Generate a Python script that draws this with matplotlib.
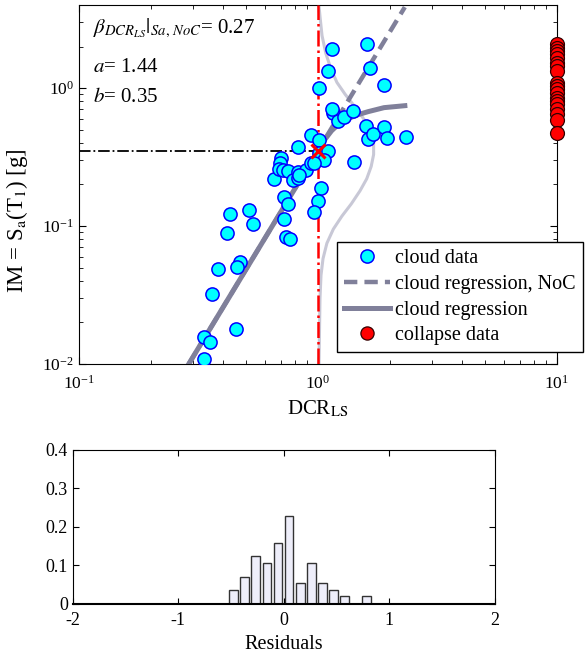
import numpy as np
import matplotlib
matplotlib.use('Agg')
import matplotlib.pyplot as plt
from matplotlib.lines import Line2D

plt.rcParams['font.family'] = ['Liberation Serif', 'DejaVu Serif']
plt.rcParams['mathtext.fontset'] = 'stix'

# cloud data: DCR_LS vs Sa(T1)
cloud_dcr = [0.333, 0.333, 0.353, 0.454, 0.36, 0.382, 0.472, 0.458, 0.416, 0.428,
             0.514, 0.535, 0.735, 0.764, 0.721, 0.721, 0.749, 0.654, 0.70, 0.693,
             0.687, 0.714, 0.749, 0.786, 0.825, 0.825, 0.891, 0.935, 0.825, 0.935,
             1.01, 1.01, 1.10, 1.06, 0.962, 1.03, 1.0, 0.962, 1.415, 1.588,
             1.62, 1.70, 1.89, 1.94, 2.33, 1.156, 1.21, 1.285, 1.40, 1.144,
             1.60, 1.10, 1.65, 1.89, 1.01, 1.144, 0.833]
cloud_sa = [0.0109, 0.0157, 0.0145, 0.018, 0.0322, 0.0488, 0.0548, 0.0504, 0.0887, 0.1216,
            0.130, 0.103, 0.083, 0.080, 0.112, 0.1614, 0.1437, 0.218, 0.309, 0.284,
            0.261, 0.253, 0.249, 0.214, 0.221, 0.245, 0.253, 0.284, 0.371, 0.46,
            0.423, 0.341, 0.352, 0.299, 0.284, 0.1875, 0.151, 0.126, 0.289, 0.535,
            0.424, 0.468, 0.526, 0.438, 0.445, 0.663, 0.581, 0.621, 0.686, 1.92,
            2.09, 1.33, 1.40, 1.06, 1.0, 0.709, 0.233]

# collapse cases, plotted at DCR = 10
collapse_sa = [2.09, 1.95, 1.86, 1.77, 1.66, 1.52, 1.45, 1.33, 1.09, 1.04,
               0.99, 0.925, 0.851, 0.81, 0.77, 0.709, 0.652, 0.59, 0.475]
collapse_dcr = [10.0] * len(collapse_sa)

# regression lines
noc_dcr = [0.288, 2.31]
noc_sa = [0.01, 3.86]
reg_dcr = [0.288, 1.06, 1.14, 1.21, 1.335, 1.47, 1.62, 1.89, 2.31]
reg_sa = [0.01, 0.416, 0.49, 0.54, 0.60, 0.641, 0.674, 0.721, 0.745]

# residual pdf drawn around DCR = 1
pdf_dcr = [1.01, 1.02, 1.04, 1.08, 1.13, 1.2, 1.3, 1.42, 1.53, 1.62, 1.68, 1.71,
           1.71, 1.67, 1.60, 1.50, 1.38, 1.26, 1.16, 1.09, 1.05, 1.03, 1.02, 1.01]
pdf_sa = [3.93, 3.3, 2.4, 1.77, 1.4, 1.1, 0.9, 0.74, 0.62, 0.54, 0.46, 0.40,
          0.33, 0.27, 0.22, 0.18, 0.145, 0.118, 0.095, 0.075, 0.058, 0.044, 0.03, 0.01]

sa_median = 0.35

# residual histogram
res_centers = [-0.475, -0.37, -0.265, -0.16, -0.055, 0.05, 0.155, 0.26, 0.365, 0.47, 0.575, 0.785]
res_freq = [0.036, 0.071, 0.124, 0.106, 0.158, 0.229, 0.054, 0.106, 0.054, 0.036, 0.02, 0.02]

line_col = '#80809A'

fig = plt.figure(figsize=(5.85, 6.55), dpi=100)
ax = fig.add_axes([0.135, 0.4443, 0.817, 0.5481])

ax.plot(pdf_dcr, pdf_sa, color='#C8C8D6', lw=2.2, zorder=2)
ax.plot([1, 1], [0.01, 4.0], color='red', ls='-.', lw=1.8, zorder=3)
ax.plot([0.1, 1], [sa_median, sa_median], color='black', ls='-.', lw=1.3, zorder=3)
ax.plot(noc_dcr, noc_sa, color=line_col, ls=(0, (3, 1.6)), lw=3.2, zorder=3)
ax.plot(reg_dcr, reg_sa, color=line_col, ls='-', lw=3.6, zorder=3)
ax.plot(cloud_dcr, cloud_sa, 'o', ms=9.5, mfc='#00FFFF', mec='#0000FF', mew=1.1, zorder=4)
ax.plot([1], [sa_median], 'x', color='red', ms=10, mew=2.2, zorder=5)
ax.plot(collapse_dcr, collapse_sa, 'o', ms=10, mfc='red', mec='#330000', mew=0.9,
        zorder=6, clip_on=False)

ax.set_xscale('log')
ax.set_yscale('log')
ax.set_xlim(0.1, 10)
ax.set_ylim(0.01, 4.0)
ax.tick_params(which='both', direction='in', top=True, right=True, labelsize=12.5)
ax.tick_params(which='major', length=5)
ax.tick_params(which='minor', length=3)
ax.tick_params(axis='x', which='major', pad=8)
ax.set_xlabel('DCR$_{\\mathrm{LS}}$', fontsize=15, labelpad=4)
ax.set_ylabel('IM = S$_\\mathrm{a}$(T$_1$) [g]', fontsize=16.5)
ax.yaxis.set_label_coords(-0.103, 0.40)

ax.text(0.029, 0.936, r'$\beta_{DCR_{LS}}|_{Sa,\,NoC}$= 0.27', transform=ax.transAxes,
        fontsize=15, va='center')
ax.text(0.029, 0.827, r'$a$= 1.44', transform=ax.transAxes, fontsize=15, va='center')
ax.text(0.029, 0.741, r'$b$= 0.35', transform=ax.transAxes, fontsize=15, va='center')

handles = [
    Line2D([], [], ls='none', marker='o', ms=9.5, mfc='#00FFFF', mec='#0000FF', mew=1.1),
    Line2D([], [], color=line_col, ls=(0, (3, 1.6)), lw=3.2),
    Line2D([], [], color=line_col, ls='-', lw=3.6),
    Line2D([], [], ls='none', marker='o', ms=9.5, mfc='red', mec='#330000', mew=0.9),
]
labels = ['cloud data', 'cloud regression, NoC', 'cloud regression', 'collapse data']
leg = ax.legend(handles, labels, loc='upper left', bbox_to_anchor=(0.576, 0.6305),
                bbox_transform=fig.transFigure, fontsize=14.5, frameon=True,
                fancybox=False, framealpha=1, edgecolor='black', borderaxespad=0,
                handlelength=2.3, handletextpad=0.25, labelspacing=0.33,
                borderpad=0.35)
leg.get_frame().set_linewidth(1.0)
leg.set_zorder(10)

# residuals histogram
ax2 = fig.add_axes([0.1243, 0.0779, 0.7217, 0.2351])
ax2.bar(res_centers, res_freq, width=0.083, color='#EEEEFA', edgecolor='#333333', lw=1.0)
ax2.set_xlim(-2, 2)
ax2.set_ylim(0, 0.4)
ax2.set_xticks([-2, -1, 0, 1, 2])
ax2.set_yticks([0, 0.1, 0.2, 0.3, 0.4])
ax2.set_xticklabels(['-2', '-1', '0', '1', '2'])
ax2.set_yticklabels(['0', '0.1', '0.2', '0.3', '0.4'])
ax2.tick_params(direction='in', top=True, right=True, labelsize=13, length=4)
ax2.tick_params(axis='x', pad=6)
ax2.set_xlabel('Residuals', fontsize=14.5, labelpad=4)
ax2.spines['bottom'].set_linewidth(1.5)

fig.savefig('out.png', dpi=100)
